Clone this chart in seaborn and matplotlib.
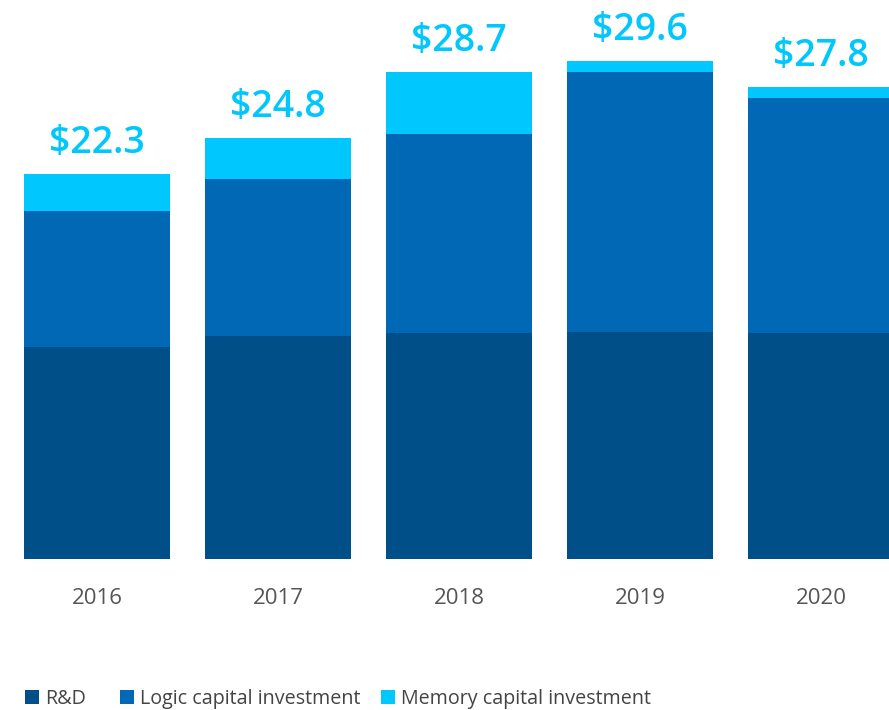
import numpy as np
import pandas as pd
import matplotlib
matplotlib.use("Agg")
import matplotlib.pyplot as plt
import seaborn as sns
from matplotlib.patches import Patch

# values in $B
years = ["2016", "2017", "2018", "2019", "2020"]
rnd = [12.6, 13.3, 13.45, 13.5, 13.45]
logic = [8.1, 9.3, 11.85, 15.5, 14.0]
memory = [2.2, 2.45, 3.7, 0.65, 0.65]
totals = [22.3, 24.8, 28.7, 29.6, 27.8]
series_names = ["R&D", "Logic capital investment", "Memory capital investment"]
colors = ["#004f88", "#0068b5", "#00c7fd"]

sns.set_style("white")
plt.rcParams["font.family"] = ["Open Sans", "DejaVu Sans"]

df = pd.DataFrame({"year": years, "rnd": rnd, "logic": logic, "memory": memory})
df["cum_logic"] = df["rnd"] + df["logic"]
df["cum_total"] = df["cum_logic"] + df["memory"]

fig = plt.figure(figsize=(8.89, 7.10), dpi=100)
ax = fig.add_axes([0, 151 / 710, 1, 537.6 / 710])

# stacked look: draw cumulative heights from the top down
for col, c in zip(["cum_total", "cum_logic", "rnd"], colors[::-1]):
    sns.barplot(data=df, x="year", y=col, color=c, width=146 / 181,
                saturation=1, ax=ax, linewidth=0)

for i, t in enumerate(totals):
    ax.annotate(f"${t}", (i, df["cum_total"][i]), xytext=(0, 15),
                textcoords="offset points", ha="center", va="baseline",
                fontsize=27, fontweight="semibold", color="#00c7fd")

ax.set_xlim(-97 / 181, 792 / 181)
ax.set_ylim(0, 32)
ax.set_xlabel("")
ax.set_ylabel("")
ax.set_yticks([])
ax.tick_params(axis="x", length=0, pad=21, labelsize=16, labelcolor="#555555")
sns.despine(ax=ax, left=True, bottom=True)

# one legend entry per anchor, spaced like the reference
legend_x = [25, 120, 381]
for name, c, x0 in zip(series_names, colors, legend_x):
    fig.legend([Patch(facecolor=c, edgecolor="none")], [name],
               loc="center left", bbox_to_anchor=(x0 / 889, 1 - 699 / 710),
               frameon=False, fontsize=14.2, handlelength=0.72, handleheight=0.72,
               handletextpad=0.3, borderaxespad=0, borderpad=0,
               labelcolor="#444444")

fig.savefig("out.png", dpi=100)
